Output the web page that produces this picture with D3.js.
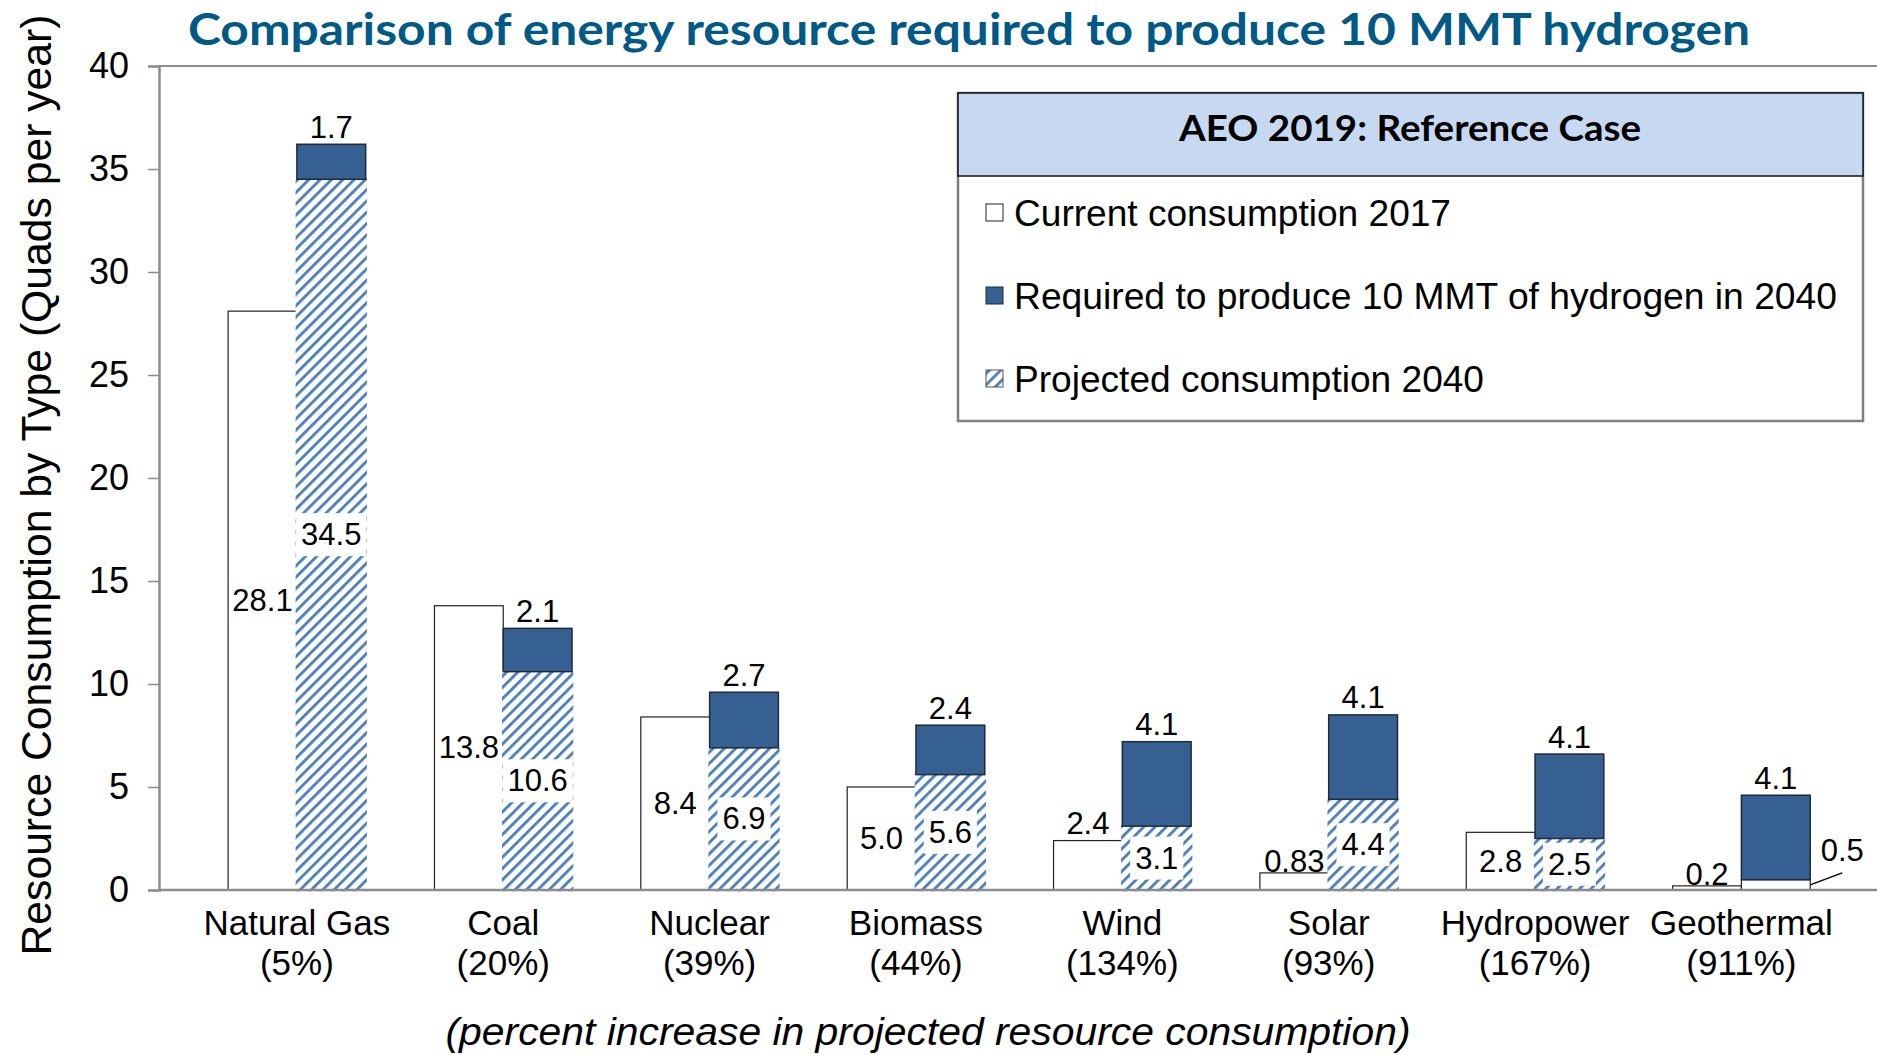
<!DOCTYPE html>
<html>
<head>
<meta charset="utf-8">
<script src="https://cdn.jsdelivr.net/npm/d3@7"></script>
<style>
  html, body { margin: 0; padding: 0; background: #fff; }
  svg { display: block; }
  text { font-family: "Liberation Sans", Arial, sans-serif; fill: #000; }
</style>
</head>
<body>
<svg id="chart" width="1877" height="1055"></svg>
<script>
// ---- data ----
const categories = ["Natural Gas", "Coal", "Nuclear", "Biomass", "Wind", "Solar", "Hydropower", "Geothermal"];
const pctIncrease = ["(5%)", "(20%)", "(39%)", "(44%)", "(134%)", "(93%)", "(167%)", "(911%)"];
const current2017 = [28.1, 13.8, 8.4, 5.0, 2.4, 0.83, 2.8, 0.2];
const projected2040 = [34.5, 10.6, 6.9, 5.6, 3.1, 4.4, 2.5, 0.5];
const hydrogen2040 = [1.7, 2.1, 2.7, 2.4, 4.1, 4.1, 4.1, 4.1];
const yTicks = [0, 5, 10, 15, 20, 25, 30, 35, 40];
const seriesNames = ["Current consumption 2017", "Required to produce 10 MMT of hydrogen in 2040", "Projected consumption 2040"];
const titleText = "Comparison of energy resource required to produce 10 MMT hydrogen";
const legendTitle = "AEO 2019: Reference Case";
const yTitle = "Resource Consumption by Type (Quads per year)";
const xNote = "(percent increase in projected resource consumption)";

// ---- layout ----
const W = 1877, H = 1055;
const plotL = 159, plotT = 66, plotB = 890;
const svg = d3.select("#chart");

const defs = svg.append("defs");
const pat = defs.append("pattern")
  .attr("id", "hatch").attr("patternUnits", "userSpaceOnUse")
  .attr("width", 8).attr("height", 8)
  .attr("patternTransform", "rotate(45)");
pat.append("rect").attr("width", 8).attr("height", 8).attr("fill", "#fff");
pat.append("rect").attr("x", 0).attr("width", 2.8).attr("height", 8).attr("fill", "#4a7ebb");

const x = d3.scaleBand().domain(categories).range([193.7, 1844.6]).paddingInner(0).paddingOuter(0);
const x1 = d3.scaleBand().domain(["cur", "proj"]).range([0, x.bandwidth()]).paddingInner(0).paddingOuter(0.5);
const y = d3.scaleLinear().domain([0, 40]).range([plotB, plotT]);

const fmt = v => (Math.round(v * 10) === v * 10 ? v.toFixed(1) : String(v));

// frame
svg.append("line").attr("x1", plotL).attr("x2", W + 5).attr("y1", plotT).attr("y2", plotT)
  .attr("stroke", "#8c8c8c").attr("stroke-width", 2);

// y axis
const yAxis = d3.axisLeft(y).tickValues(yTicks).tickSize(11).tickPadding(19);
const gy = svg.append("g").attr("transform", `translate(${plotL},0)`).call(yAxis);
gy.select(".domain").attr("stroke", "#8c8c8c").attr("stroke-width", 2.5);
gy.selectAll(".tick line").attr("stroke", "#8c8c8c").attr("stroke-width", 1.5);
gy.selectAll(".tick text").attr("font-size", 36).attr("font-family", "Liberation Sans, Arial, sans-serif").attr("fill", "#000");

const data = categories.map((c, i) => ({ c, i, cur: current2017[i], proj: projected2040[i], h2: hydrogen2040[i] }));

const g = svg.append("g");
// current 2017 bars
g.selectAll("rect.cur").data(data).join("rect").attr("class", "cur")
  .attr("x", d => x(d.c) + x1("cur")).attr("width", x1.bandwidth())
  .attr("y", d => y(d.cur)).attr("height", d => y(0) - y(d.cur))
  .attr("fill", "#fff").attr("stroke", "#222").attr("stroke-width", 1.2);
// projected 2040 (hatched; too-thin segments render plain)
g.selectAll("rect.proj").data(data).join("rect").attr("class", "proj")
  .attr("x", d => x(d.c) + x1("proj")).attr("width", x1.bandwidth())
  .attr("y", d => y(d.proj)).attr("height", d => y(0) - y(d.proj))
  .attr("fill", d => (y(0) - y(d.proj) < 15 ? "#fff" : "url(#hatch)"))
  .attr("stroke", d => (y(0) - y(d.proj) < 15 ? "#222" : "url(#hatch)"))
  .attr("stroke-width", d => (y(0) - y(d.proj) < 15 ? 1.2 : 2.5));
// hydrogen requirement stacked on top
g.selectAll("rect.h2").data(data).join("rect").attr("class", "h2")
  .attr("x", d => x(d.c) + x1("proj")).attr("width", x1.bandwidth())
  .attr("y", d => y(d.proj + d.h2)).attr("height", d => y(d.proj) - y(d.proj + d.h2))
  .attr("fill", "#376092").attr("stroke", "#1e2a3a").attr("stroke-width", 1.5);

// x axis baseline
svg.append("line").attr("x1", plotL).attr("x2", W + 5).attr("y1", plotB).attr("y2", plotB)
  .attr("stroke", "#8c8c8c").attr("stroke-width", 2.5);

// ---- data labels ----
const LFS = 31;
const lab = svg.append("g").attr("font-size", LFS);
data.forEach(d => {
  const cx0 = x(d.c) + x1("cur") + x1.bandwidth() / 2;
  const cx1 = x(d.c) + x1("proj") + x1.bandwidth() / 2;
  // current
  if (d.cur >= 2.5) {
    lab.append("text").attr("x", cx0).attr("y", y(d.cur / 2)).attr("text-anchor", "middle")
      .attr("dominant-baseline", "central").text(fmt(d.cur));
  } else {
    lab.append("text").attr("x", cx0).attr("y", y(d.cur) - (d.cur < 1 ? 11 : 17)).attr("text-anchor", "middle")
      .attr("dominant-baseline", "central").text(fmt(d.cur));
  }
  // projected
  if (d.proj >= 1) {
    const t = lab.append("text").attr("x", cx1).attr("y", y(d.proj / 2)).attr("text-anchor", "middle")
      .attr("dominant-baseline", "central").text(fmt(d.proj));
    const tw = t.node().getComputedTextLength();
    lab.insert("rect", () => t.node()).attr("x", cx1 - tw / 2 - 5).attr("y", y(d.proj / 2) - 21.5)
      .attr("width", tw + 10).attr("height", 43).attr("fill", "#fff");
  } else {
    const bx = x(d.c) + x1("proj") + x1.bandwidth();
    const by = y(d.proj / 2);
    lab.append("line").attr("x1", bx).attr("y1", by).attr("x2", bx + 32).attr("y2", by - 12)
      .attr("stroke", "#000").attr("stroke-width", 1.5);
    lab.append("text").attr("x", bx + 32).attr("y", by - 34).attr("text-anchor", "middle")
      .attr("dominant-baseline", "central").text(fmt(d.proj));
  }
  // hydrogen
  lab.append("text").attr("x", cx1).attr("y", y(d.proj + d.h2) - 17).attr("text-anchor", "middle")
    .attr("dominant-baseline", "central").text(fmt(d.h2));
});

// ---- category labels ----
const cat = svg.append("g").attr("font-size", 35).attr("text-anchor", "middle");
data.forEach(d => {
  const cx = x(d.c) + x.bandwidth() / 2;
  cat.append("text").attr("x", cx).attr("y", 922).attr("dominant-baseline", "central").text(d.c);
  cat.append("text").attr("x", cx).attr("y", 962).attr("dominant-baseline", "central").text(pctIncrease[d.i]);
});

// bottom note
svg.append("text").attr("x", 928).attr("y", 1032).attr("text-anchor", "middle")
  .attr("dominant-baseline", "central").attr("font-size", 38).attr("font-style", "italic")
  .attr("textLength", 965).attr("lengthAdjust", "spacingAndGlyphs").text(xNote);

// y title
svg.append("text").attr("transform", "translate(36,485) rotate(-90)").attr("text-anchor", "middle")
  .attr("dominant-baseline", "central").attr("font-size", 42)
  .attr("textLength", 941).attr("lengthAdjust", "spacingAndGlyphs").text(yTitle);

// title
svg.append("text").attr("x", 969).attr("y", 45).attr("text-anchor", "middle")
  .style("font-family", "Lato, 'Open Sans', sans-serif").attr("font-weight", "bold")
  .attr("font-size", 44).style("fill", "#005a85")
  .attr("textLength", 1562).attr("lengthAdjust", "spacingAndGlyphs").text(titleText);

// ---- legend ----
const lg = svg.append("g");
lg.append("rect").attr("x", 958).attr("y", 93).attr("width", 905).attr("height", 328)
  .attr("fill", "#fff").attr("stroke", "#7f7f7f").attr("stroke-width", 2.5);
lg.append("rect").attr("x", 958).attr("y", 93).attr("width", 905).attr("height", 83)
  .attr("fill", "#c6d9f1").attr("stroke", "#111").attr("stroke-width", 1.5);
lg.append("text").attr("x", 1410).attr("y", 141).attr("text-anchor", "middle")
  .style("font-family", "Lato, 'Open Sans', sans-serif").attr("font-weight", "bold").attr("font-size", 36)
  .attr("textLength", 462).attr("lengthAdjust", "spacingAndGlyphs").text(legendTitle);
const legYs = [213, 296, 379];
const legFills = ["#fff", "#376092", "url(#hatch)"];
const legStrokes = ["#222", "#1e2a3a", "#555"];
const legW = [437, 823, 470];
seriesNames.forEach((s, i) => {
  lg.append("rect").attr("x", 986).attr("y", legYs[i] - 9).attr("width", 17).attr("height", 17)
    .attr("fill", legFills[i]).attr("stroke", legStrokes[i]).attr("stroke-width", 1);
  lg.append("text").attr("x", 1014).attr("y", legYs[i]).attr("dominant-baseline", "central")
    .attr("font-size", 36).attr("textLength", legW[i]).attr("lengthAdjust", "spacingAndGlyphs").text(s);
});
</script>
</body>
</html>
